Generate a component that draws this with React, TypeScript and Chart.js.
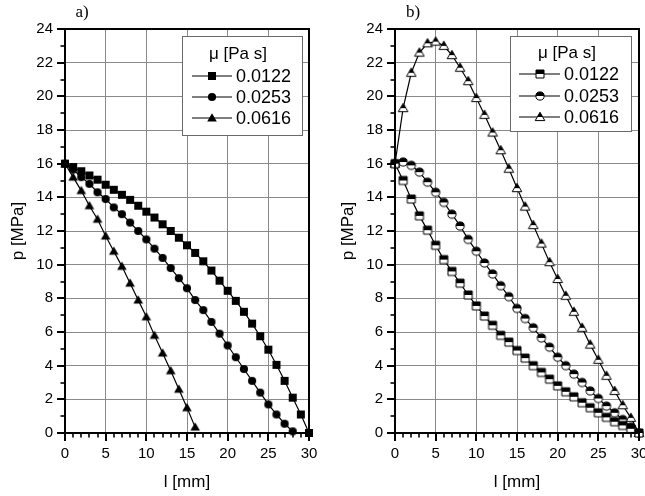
import React, { useEffect, useRef } from 'react';
import { Chart, registerables } from 'chart.js';

Chart.register(...registerables);

// ---------- data ----------
const legendTitle = 'μ [Pa s]';
const seriesLabels = ['0.0122', '0.0253', '0.0616'];
const xTitle = 'l [mm]';
const yTitle = 'p [MPa]';
const panelLetters = ['a)', 'b)'];

const x0to30 = [0, 1, 2, 3, 4, 5, 6, 7, 8, 9, 10, 11, 12, 13, 14, 15, 16, 17, 18, 19, 20, 21, 22, 23, 24, 25, 26, 27, 28, 29, 30];
const x0to28 = [0, 1, 2, 3, 4, 5, 6, 7, 8, 9, 10, 11, 12, 13, 14, 15, 16, 17, 18, 19, 20, 21, 22, 23, 24, 25, 26, 27, 28];
const x0to16 = [0, 1, 2, 3, 4, 5, 6, 7, 8, 9, 10, 11, 12, 13, 14, 15, 16];

// panel a)
const aSquareY = [16, 15.8, 15.55, 15.3, 15.05, 14.75, 14.45, 14.15, 13.85, 13.5, 13.15, 12.8, 12.4, 12.0, 11.6, 11.15, 10.7, 10.2, 9.65, 9.05, 8.45, 7.85, 7.2, 6.5, 5.75, 4.95, 4.05, 3.1, 2.1, 1.1, 0];
const aCircleY = [16, 15.65, 15.2, 14.8, 14.3, 13.9, 13.4, 13.0, 12.5, 12.0, 11.5, 10.95, 10.4, 9.8, 9.2, 8.6, 7.9, 7.3, 6.6, 5.9, 5.2, 4.5, 3.8, 3.1, 2.4, 1.7, 1.1, 0.55, 0.1];
const aTriangleY = [16, 15.2, 14.4, 13.5, 12.7, 11.7, 10.8, 9.9, 8.9, 7.9, 6.9, 5.8, 4.75, 3.7, 2.6, 1.5, 0.35];

// panel b)
const bSquareY = [16, 15.0, 13.9, 12.9, 12.05, 11.15, 10.3, 9.6, 8.9, 8.2, 7.55, 6.95, 6.4, 5.8, 5.4, 4.9, 4.45, 4.0, 3.6, 3.2, 2.8, 2.45, 2.15, 1.8, 1.5, 1.2, 0.93, 0.67, 0.45, 0.25, 0];
const bCircleY = [16, 16.1, 15.9, 15.5, 14.9, 14.3, 13.7, 13.0, 12.3, 11.5, 10.8, 10.1, 9.45, 8.75, 8.1, 7.4, 6.8, 6.25, 5.65, 5.1, 4.5, 4.0, 3.5, 3.0, 2.5, 2.05, 1.6, 1.2, 0.8, 0.35, 0];
const bTriangleY = [16, 19.3, 21.4, 22.6, 23.15, 23.25, 23.0, 22.45, 21.7, 20.9, 19.9, 18.9, 17.85, 16.8, 15.7, 14.55, 13.45, 12.35, 11.25, 10.15, 9.15, 8.15, 7.2, 6.25, 5.25, 4.35, 3.4, 2.5, 1.65, 0.9, 0];

const xMin = 0, xMax = 30, xStep = 5, xMinorStep = 1;
const yMin = 0, yMax = 24, yStep = 2, yMinorStep = 1;

// ---------- helpers ----------
const SANS = '"Liberation Sans", Arial, sans-serif';
const SERIF = '"Liberation Serif", "Times New Roman", serif';

type Shape = 'square' | 'circle' | 'triangle';

function makeMarker(shape: Shape, half: boolean): HTMLCanvasElement {
  const s = 12;
  const c = document.createElement('canvas');
  c.width = s;
  c.height = s;
  const ctx = c.getContext('2d')!;
  const path = () => {
    ctx.beginPath();
    if (shape === 'square') ctx.rect(2, 2, 8, 8);
    else if (shape === 'circle') ctx.arc(6, 6, 4.1, 0, Math.PI * 2);
    else {
      ctx.moveTo(6, 1.3);
      ctx.lineTo(10.8, 9.6);
      ctx.lineTo(1.2, 9.6);
      ctx.closePath();
    }
  };
  if (!half) {
    path();
    ctx.fillStyle = '#000';
    ctx.fill();
  } else {
    path();
    ctx.fillStyle = '#fff';
    ctx.fill();
    ctx.save();
    path();
    ctx.clip();
    ctx.fillStyle = '#000';
    ctx.fillRect(0, 0, s, 6);
    ctx.restore();
    path();
    ctx.lineWidth = 1;
    ctx.strokeStyle = '#000';
    ctx.stroke();
  }
  return c;
}

const toPoints = (xs: number[], ys: number[]) => ys.map((y, i) => ({ x: xs[i], y }));

const frameTicksPlugin = {
  id: 'frameTicks',
  afterDraw(chart: any, _args: any, opts: any) {
    const { ctx, chartArea } = chart;
    const { left, right, top, bottom } = chartArea;
    const xs = chart.scales.x;
    const ys = chart.scales.y;
    ctx.save();
    ctx.strokeStyle = '#000';
    for (let v = xs.min; v <= xs.max + 1e-9; v += opts.xMinor) {
      const major = Math.abs(v % opts.xMajor) < 1e-6;
      const px = Math.round(xs.getPixelForValue(v));
      ctx.lineWidth = major ? 2 : 1.6;
      ctx.beginPath();
      ctx.moveTo(px, bottom);
      ctx.lineTo(px, bottom + (major ? 8 : 4.5));
      ctx.stroke();
    }
    for (let v = ys.min; v <= ys.max + 1e-9; v += opts.yMinor) {
      const major = Math.abs(v % opts.yMajor) < 1e-6;
      const py = Math.round(ys.getPixelForValue(v));
      ctx.lineWidth = major ? 2 : 1.6;
      ctx.beginPath();
      ctx.moveTo(left, py);
      ctx.lineTo(left - (major ? 8 : 4.5), py);
      ctx.stroke();
    }
    ctx.lineWidth = 2;
    ctx.strokeRect(left, top, right - left, bottom - top);
    ctx.fillStyle = '#000';
    ctx.font = `17px ${SERIF}`;
    ctx.textAlign = 'center';
    ctx.textBaseline = 'middle';
    ctx.fillText(opts.letter, opts.letterX, opts.letterY);
    ctx.restore();
  },
};

const boxLegendPlugin = {
  id: 'boxLegend',
  afterDatasetsDraw(chart: any, _args: any, opts: any) {
    const { ctx } = chart;
    ctx.save();
    ctx.fillStyle = '#fff';
    ctx.fillRect(opts.x, opts.y, opts.w, opts.h);
    ctx.strokeStyle = '#6a6a6a';
    ctx.lineWidth = 1;
    ctx.strokeRect(opts.x + 0.5, opts.y + 0.5, opts.w, opts.h);
    ctx.fillStyle = '#000';
    ctx.font = `17px ${SANS}`;
    ctx.textAlign = 'center';
    ctx.textBaseline = 'middle';
    ctx.fillText(opts.title, opts.titleX, opts.titleY);
    chart.data.datasets.forEach((ds: any, i: number) => {
      const ry = opts.rowY[i];
      ctx.strokeStyle = '#000';
      ctx.lineWidth = 1.2;
      ctx.beginPath();
      ctx.moveTo(opts.lineX1, ry);
      ctx.lineTo(opts.lineX2, ry);
      ctx.stroke();
      const img = ds.pointStyle as HTMLCanvasElement;
      const mx = (opts.lineX1 + opts.lineX2) / 2;
      ctx.drawImage(img, Math.round(mx - img.width / 2), Math.round(ry - img.height / 2));
      ctx.fillStyle = '#000';
      ctx.font = `18px ${SANS}`;
      ctx.textAlign = 'left';
      ctx.textBaseline = 'middle';
      ctx.fillText(ds.label, opts.textX, ry + 1);
    });
    ctx.restore();
  },
};

function buildConfig(p: any): any {
  const markers = [
    makeMarker('square', p.half),
    makeMarker('circle', p.half),
    makeMarker('triangle', p.half),
  ];
  const datasets = p.series.map((s: any, i: number) => ({
    label: seriesLabels[i],
    data: toPoints(s.x, s.y),
    borderColor: '#000',
    borderWidth: 1.2,
    pointStyle: markers[i],
    pointRadius: 4,
    pointHoverRadius: 4,
    tension: 0,
    clip: false,
    fill: false,
  }));
  return {
    type: 'line',
    data: { datasets },
    plugins: [frameTicksPlugin, boxLegendPlugin],
    options: {
      responsive: false,
      animation: false,
      devicePixelRatio: 1,
      events: [],
      layout: { padding: { left: 0, top: 29, right: p.padRight, bottom: 0 } },
      scales: {
        x: {
          type: 'linear',
          min: xMin,
          max: xMax,
          ticks: { stepSize: xStep, color: '#000', font: { family: SANS, size: 15 }, padding: 12, maxRotation: 0 },
          grid: { color: '#8a8a8a', lineWidth: 1, drawTicks: false },
          border: { display: false },
          title: { display: true, text: xTitle, color: '#000', font: { family: SANS, size: 17 }, padding: { top: 0, bottom: 3 } },
          afterFit: (scale: any) => {
            scale.height = 63;
            scale.paddingLeft = 0;
            scale.paddingRight = 0;
          },
        },
        y: {
          type: 'linear',
          min: yMin,
          max: yMax,
          ticks: { stepSize: yStep, color: '#000', font: { family: SANS, size: 15 }, padding: 12 },
          grid: { color: '#8a8a8a', lineWidth: 1, drawTicks: false },
          border: { display: false },
          title: { display: true, text: yTitle, color: '#000', font: { family: SANS, size: 17 }, padding: { top: p.yTitlePad, bottom: 0 } },
          afterFit: (scale: any) => {
            scale.width = p.yWidth;
            scale.paddingTop = 0;
            scale.paddingBottom = 0;
          },
        },
      },
      plugins: {
        legend: { display: false },
        tooltip: { enabled: false },
        frameTicks: {
          xMinor: xMinorStep,
          xMajor: xStep,
          yMinor: yMinorStep,
          yMajor: yStep,
          letter: p.letter,
          letterX: p.letterX,
          letterY: 13,
        },
        boxLegend: { title: legendTitle, ...p.legend },
      },
    },
  };
}

const panelA = {
  left: 0,
  width: 336,
  padRight: 27,
  yWidth: 65,
  yTitlePad: 8,
  half: false,
  letter: panelLetters[0],
  letterX: 82,
  series: [
    { x: x0to30, y: aSquareY },
    { x: x0to28, y: aCircleY },
    { x: x0to16, y: aTriangleY },
  ],
  legend: { x: 182, y: 36, w: 120, h: 99, titleX: 238, titleY: 54, rowY: [76, 97, 118], lineX1: 192, lineX2: 232, textX: 236 },
};

const panelB = {
  left: 336,
  width: 309,
  padRight: 6,
  yWidth: 59,
  yTitlePad: 2,
  half: true,
  letter: panelLetters[1],
  letterX: 77,
  series: [
    { x: x0to30, y: bSquareY },
    { x: x0to30, y: bCircleY },
    { x: x0to30, y: bTriangleY },
  ],
  legend: { x: 174, y: 36, w: 121, h: 95, titleX: 231, titleY: 53, rowY: [74, 96, 117], lineX1: 183, lineX2: 224, textX: 228 },
};

function Panel({ p }: { p: any }) {
  const ref = useRef<HTMLCanvasElement | null>(null);
  useEffect(() => {
    if (!ref.current) return;
    const chart = new Chart(ref.current, buildConfig(p));
    return () => chart.destroy();
  }, [p]);
  return (
    <canvas
      ref={ref}
      width={p.width}
      height={496}
      style={{ position: 'absolute', left: p.left, top: 0, width: p.width, height: 496, display: 'block' }}
    />
  );
}

export default function App() {
  return (
    <div style={{ position: 'absolute', left: 0, top: 0, width: 645, height: 496, background: '#fff', overflow: 'hidden' }}>
      <Panel p={panelA} />
      <Panel p={panelB} />
    </div>
  );
}
